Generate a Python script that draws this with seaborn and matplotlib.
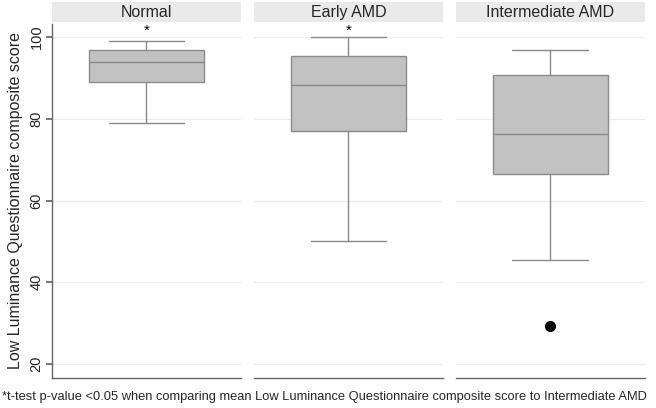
import matplotlib
matplotlib.use("Agg")
import matplotlib.pyplot as plt
import pandas as pd
import seaborn as sns
from matplotlib.patches import Rectangle

# Summary statistics
groups = ["Normal", "Early AMD", "Intermediate AMD"]
whisker_low = [79.0, 50.0, 45.4]
q1 = [89.0, 77.0, 66.5]
median = [93.9, 88.3, 76.3]
q3 = [96.8, 95.4, 90.7]
whisker_high = [99.0, 100.0, 96.8]
outliers = [[], [], [29.3]]
significant = [True, True, False]

y_ticks = [20, 40, 60, 80, 100]
footnote = ("*t-test p-value <0.05 when comparing mean Low Luminance "
            "Questionnaire composite score to Intermediate AMD")
ylabel = "Low Luminance Questionnaire composite score"

stats = pd.DataFrame({
    "group": groups, "whislo": whisker_low, "q1": q1, "med": median,
    "q3": q3, "whishi": whisker_high, "fliers": outliers, "sig": significant,
})

sns.set_theme(style="white")
plt.rcParams["font.family"] = ["Liberation Sans", "DejaVu Sans"]

g = sns.FacetGrid(stats, col="group", col_order=groups, sharey=True,
                  height=4.08, aspect=0.5)

box_face = "#c2c2c2"
box_edge = "#8a8a8a"


def draw_box(data, **kws):
    ax = plt.gca()
    row = data.iloc[0]
    st = {"whislo": row["whislo"], "q1": row["q1"], "med": row["med"],
          "q3": row["q3"], "whishi": row["whishi"], "fliers": row["fliers"],
          "label": ""}
    ax.bxp([st], positions=[0], widths=0.61, patch_artist=True,
           showfliers=True,
           boxprops=dict(facecolor=box_face, edgecolor=box_edge, linewidth=1.0),
           medianprops=dict(color=box_edge, linewidth=1.0),
           whiskerprops=dict(color=box_edge, linewidth=1.0),
           capprops=dict(color=box_edge, linewidth=1.0),
           capwidths=0.4,
           flierprops=dict(marker="o", markerfacecolor="black",
                           markeredgecolor="black", markersize=7))
    if row["sig"]:
        ax.text(0, 101.6, "*", ha="center", va="center", fontsize=11,
                color="black")


g.map_dataframe(draw_box)

# map_dataframe runs tight_layout, so set the final geometry afterwards
g.figure.set_size_inches(6.56, 4.08)
g.figure.subplots_adjust(left=0.079, right=0.983, top=0.941, bottom=0.074,
                         wspace=0.068)

for i, (ax, name) in enumerate(zip(g.axes.flat, groups)):
    ax.set_xlim(-0.5, 0.5)
    ax.set_ylim(16.6, 103.2)
    ax.set_xticks([])
    ax.set_title("")
    ax.set_xlabel("")
    ax.set_yticks(y_ticks)
    ax.yaxis.grid(True, color="#ececec", linewidth=0.9)
    ax.set_axisbelow(True)
    for side in ["top", "right"]:
        ax.spines[side].set_visible(False)
    ax.spines["bottom"].set_color("#666666")
    ax.spines["bottom"].set_linewidth(1.0)
    if i == 0:
        ax.spines["left"].set_visible(True)
        ax.spines["left"].set_color("#666666")
        ax.spines["left"].set_linewidth(1.0)
        ax.tick_params(axis="y", left=True, length=4, color="#666666",
                       labelsize=10.5, labelrotation=90, pad=2)
        for lab in ax.get_yticklabels():
            lab.set_va("center")
        ax.set_ylabel(ylabel, fontsize=11.5, labelpad=5)
    else:
        ax.spines["left"].set_visible(False)
        ax.tick_params(axis="y", left=False, labelleft=False)
        ax.set_ylabel("")
    # grey header strip
    ax.add_patch(Rectangle((0, 1.006), 1, 0.056, transform=ax.transAxes,
                           clip_on=False, facecolor="#eaeaea", edgecolor="none"))
    ax.text(0.5, 1.034, name, transform=ax.transAxes, ha="center",
            va="center", fontsize=11.5)

g.figure.text(0.003, 0.027, footnote, fontsize=9.3, ha="left", va="center")

g.figure.savefig("out.png", dpi=100)
